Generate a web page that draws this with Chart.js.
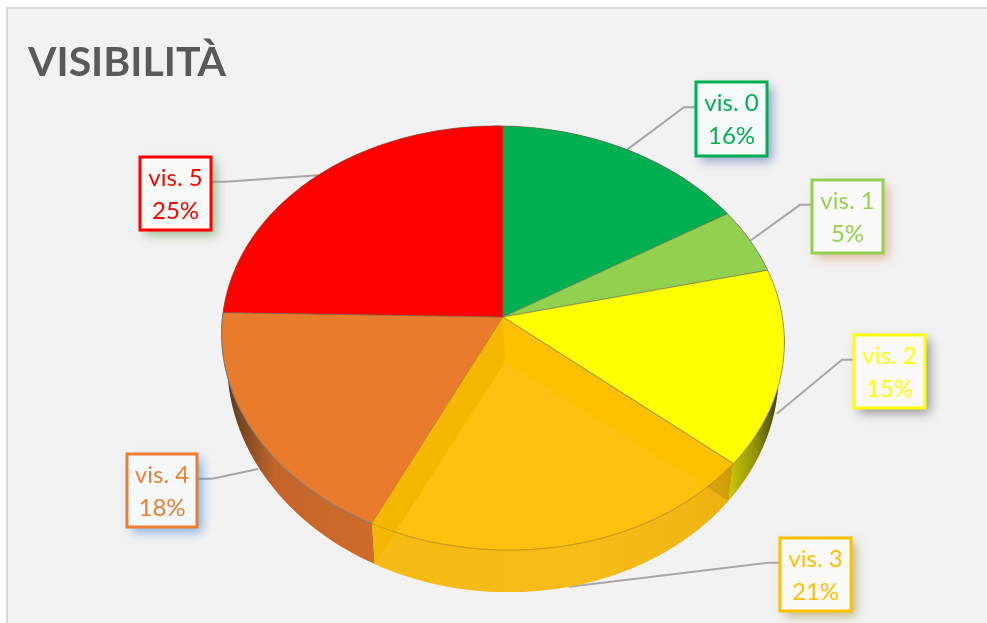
<!DOCTYPE html>
<html>
<head>
<meta charset="utf-8">
<title>Visibilità</title>
<script src="https://cdn.jsdelivr.net/npm/chart.js@4"></script>
<style>
    html, body { margin: 0; padding: 0; background: #fff; }
    #wrap { width: 987px; height: 623px; }
</style>
</head>
<body>
<div id="wrap"><canvas id="visChart" width="987" height="623"></canvas></div>
<script>
// Data
const categories = ['vis. 0', 'vis. 1', 'vis. 2', 'vis. 3', 'vis. 4', 'vis. 5'];
const percentages = [16, 5, 15, 21, 18, 25];
const labelColors = ['#00B050', '#92D050', '#FFFF00', '#FFC000', '#ED7D31', '#FF0000'];
const faceColors = ['#00B050', '#92D050', '#FFFF00', '#FFC000', '#E97B2C', '#FF0000'];

// Layout of the label boxes: x, y, w, h, then where the leader line bends
const labelBoxes = [
    { x: 696, y: 82, w: 71, h: 74, side: 'left', bend: 12, fill: '#F6FAFC', shadow: 'rgba(60,90,170,0.55)' },
    { x: 812, y: 180, w: 71, h: 73, side: 'left', bend: 12, fill: '#FCFAF8', shadow: 'rgba(210,130,80,0.55)' },
    { x: 854, y: 335, w: 71, h: 73, side: 'left', bend: 12, fill: '#FAFAFB', shadow: 'rgba(70,70,90,0.55)' },
    { x: 780, y: 538, w: 71, h: 73, side: 'left', bend: 12, fill: '#FCFAF8', shadow: 'rgba(150,130,40,0.55)' },
    { x: 127, y: 454, w: 70, h: 73, side: 'right', bend: 15, fill: '#F5F9FC', shadow: 'rgba(60,130,210,0.6)' },
    { x: 140, y: 157, w: 71, h: 73, side: 'right', bend: 15, fill: '#F8FBF8', shadow: 'rgba(80,140,60,0.55)' }
];
// Leader line ends: z is the height on the rim (0 top face, 1 bottom edge), dy a small nudge
const leaderEnds = [
    { z: 0, dy: 0 }, { z: 0, dy: 0 }, { z: 1, dy: 14 },
    { z: 1, dy: 0 }, { z: 1, dy: 2 }, { z: 0, dy: 0 }
];

// Perspective of the pie
const pie = { x: 503, y: 317, rx: 280, ry: 210, tilt: 0.099, shear: 0.016 };

function project(angle, r, z) {
    const u = Math.cos(angle) * r;
    const v = Math.sin(angle) * r;
    const w = 1 - pie.tilt * v;
    const px = pie.x + pie.rx * u / w;
    const py = pie.y + pie.ry * v / w + (pie.rx * u / w) * pie.shear;
    return {
        x: pie.x + (px - pie.x) * (1 - 0.02 * z),
        y: py + z * (37 + 0.0575 * (py - 463))
    };
}

function arcPoints(start, end, z) {
    const pts = [];
    const steps = Math.max(8, Math.ceil((end - start) * 40));
    for (let i = 0; i <= steps; i++) {
        pts.push(project(start + (end - start) * i / steps, 1, z));
    }
    return pts;
}

function fillPoly(ctx, pts, fill, stroke) {
    ctx.beginPath();
    pts.forEach((p, i) => i ? ctx.lineTo(p.x, p.y) : ctx.moveTo(p.x, p.y));
    ctx.closePath();
    ctx.fillStyle = fill;
    ctx.fill();
    if (stroke) {
        ctx.strokeStyle = stroke;
        ctx.lineWidth = 1;
        ctx.stroke();
    }
}

function strokeArc(ctx, arc, color) {
    ctx.beginPath();
    arcPoints(arc.startAngle, arc.endAngle, 0).forEach((p, i) => i ? ctx.lineTo(p.x, p.y) : ctx.moveTo(p.x, p.y));
    ctx.strokeStyle = color;
    ctx.lineWidth = 1;
    ctx.stroke();
}

function wallGradient(ctx, index, pts) {
    const xs = pts.map(p => p.x);
    const x0 = Math.min(...xs), x1 = Math.max(...xs);
    const g = ctx.createLinearGradient(x0, 0, x1, 0);
    if (index === 2) {
        g.addColorStop(0, '#C9C900');
        g.addColorStop(0.5, '#8F8F00');
        g.addColorStop(1, '#26260A');
    } else if (index === 3) {
        g.addColorStop(0, '#EDB50F');
        g.addColorStop(0.6, '#EFB917');
        g.addColorStop(0.9, '#E0A80C');
        g.addColorStop(1, '#CF9A04');
    } else if (index === 4) {
        g.addColorStop(0, '#262428');
        g.addColorStop(0.08, '#6A4020');
        g.addColorStop(0.35, '#C4642A');
        g.addColorStop(1, '#D06C2A');
    } else {
        g.addColorStop(0, '#555');
        g.addColorStop(1, '#555');
    }
    return g;
}

// Draws the arcs Chart.js has computed as a tilted 3D pie
const pie3dPlugin = {
    id: 'pie3d',
    beforeDraw(chart) {
        const ctx = chart.ctx;
        ctx.save();
        ctx.fillStyle = '#F2F2F2';
        ctx.fillRect(7, 8, chart.width - 7, chart.height - 8);
        ctx.fillStyle = '#D9D9D9';
        ctx.fillRect(6, 7, chart.width - 6, 2);
        ctx.fillRect(6, 7, 2, chart.height - 7);
        ctx.restore();
    },
    beforeDatasetsDraw(chart) {
        const ctx = chart.ctx;
        const arcs = chart.getDatasetMeta(0).data;
        ctx.save();

        // leader lines go under the pie
        arcs.forEach((arc, i) => {
            const box = labelBoxes[i];
            const end = project((arc.startAngle + arc.endAngle) / 2, 1, leaderEnds[i].z);
            const sx = box.side === 'left' ? box.x : box.x + box.w;
            const sy = box.y + box.h * 0.34;
            const bx = box.side === 'left' ? sx - box.bend : sx + box.bend;
            ctx.beginPath();
            ctx.moveTo(sx, sy);
            ctx.lineTo(bx, sy);
            ctx.lineTo(end.x, end.y + leaderEnds[i].dy);
            ctx.strokeStyle = '#A6A6A6';
            ctx.lineWidth = 2;
            ctx.stroke();
        });

        // side walls
        arcs.forEach((arc, i) => {
            const top = arcPoints(arc.startAngle, arc.endAngle, 0);
            const bottom = arcPoints(arc.startAngle, arc.endAngle, 1).reverse();
            const pts = top.concat(bottom);
            fillPoly(ctx, pts, wallGradient(ctx, i, pts));
        });

        // top faces
        arcs.forEach((arc, i) => {
            const pts = [project(0, 0, 0)].concat(arcPoints(arc.startAngle, arc.endAngle, 0));
            fillPoly(ctx, pts, arc.options.backgroundColor, 'rgba(110,105,80,0.55)');
        });

        // the vis. 3 slice looks see-through, with its inner bevel showing
        const gold = arcs[3];
        const apex = project(0, 0, 0);
        const inner = { x: apex.x + 2, y: apex.y + 45 };
        const endTop = project(gold.endAngle, 1, 0);
        const endBottom = project(gold.endAngle, 1, 1);
        fillPoly(ctx, [apex, endTop, endBottom, inner], '#F6B700');
        const innerPts = [inner].concat(arcPoints(gold.startAngle, gold.endAngle, 1));
        fillPoly(ctx, innerPts, 'rgba(255,192,28,0.55)');

        // rim of the top face, over the wall
        strokeArc(ctx, gold, '#C79A10');
        strokeArc(ctx, arcs[4], '#7F7F7F');

        ctx.restore();
        return false;
    },
    afterDraw(chart) {
        const ctx = chart.ctx;
        ctx.save();
        labelBoxes.forEach((box, i) => {
            ctx.save();
            ctx.shadowColor = box.shadow;
            ctx.shadowBlur = 10;
            ctx.shadowOffsetX = 5;
            ctx.shadowOffsetY = 5;
            ctx.fillStyle = box.fill;
            ctx.fillRect(box.x, box.y, box.w, box.h);
            ctx.restore();
            ctx.strokeStyle = labelColors[i];
            ctx.lineWidth = 3;
            ctx.strokeRect(box.x, box.y, box.w, box.h);
            ctx.fillStyle = labelColors[i];
            ctx.font = '24px Lato';
            ctx.textAlign = 'center';
            ctx.textBaseline = 'middle';
            ctx.fillText(categories[i], box.x + box.w / 2, box.y + 21);
            ctx.fillText(percentages[i] + '%', box.x + box.w / 2, box.y + 54);
        });
        ctx.restore();
    }
};

new Chart(document.getElementById('visChart').getContext('2d'), {
    type: 'pie',
    data: {
        labels: categories,
        datasets: [{
            data: percentages,
            backgroundColor: faceColors,
            borderWidth: 0
        }]
    },
    options: {
        responsive: false,
        animation: false,
        layout: { padding: { left: 28 } },
        plugins: {
            legend: { display: false },
            tooltip: { enabled: false },
            title: {
                display: true,
                text: 'VISIBILITÀ',
                align: 'start',
                color: '#595959',
                font: { family: 'Lato', size: 41, weight: 'bold' },
                padding: { top: 38, bottom: 0 }
            }
        }
    },
    plugins: [pie3dPlugin]
});
</script>
</body>
</html>
